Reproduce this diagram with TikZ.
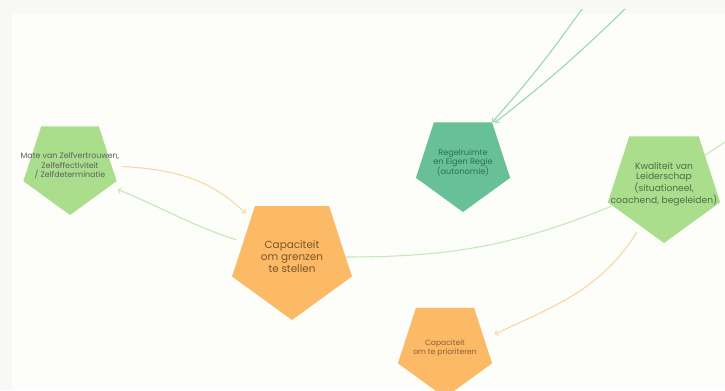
\documentclass[tikz,border=0pt]{standalone}
\usepackage{fontspec}
\setmainfont{Poppins}
\usepackage{tikz}
\usetikzlibrary{arrows}
\usetikzlibrary{shapes.geometric}
\definecolor{leafGreen}{RGB}{170,222,140}
\definecolor{regelGreen}{RGB}{104,192,152}
\definecolor{capOrange}{RGB}{252,186,102}
\definecolor{lineGreen}{RGB}{198,230,188}
\definecolor{lineOrange}{RGB}{249,214,168}
\definecolor{lineTeal}{RGB}{150,212,190}
\definecolor{paper}{RGB}{253,253,249}
\definecolor{paperEdge}{RGB}{248,248,245}
\tikzset{pent node/.style={regular polygon,regular polygon sides=5,shape border rotate=180,draw=none,inner sep=0pt}}
\tikzset{label node/.style={align=center,inner sep=0pt}}
\tikzset{link/.style={line width=0.75pt,>=to}}

\begin{document}
\begin{tikzpicture}[x=0.025cm,y=-0.025cm]
	\useasboundingbox (0,0) rectangle (725,390);
	\fill[paperEdge] (0,0) rectangle (725,390);
	\fill[paper] (12,14) rectangle (725,390);

	\node[pent node,minimum size=2.45cm,fill=leafGreen] (v_{1}) at (70,166) {};
	\node[pent node,minimum size=3.15cm,fill=capOrange] (v_{2}) at (292,257) {};
	\node[pent node,minimum size=2.475cm,fill=regelGreen] (v_{3}) at (463,162.5) {};
	\node[pent node,minimum size=2.95cm,fill=leafGreen] (v_{4}) at (664,184) {};
	\node[pent node,minimum size=2.475cm,fill=capOrange] (v_{5}) at (445,348) {};

	\node[label node,text={rgb,255:red,92;green,96;blue,102},font=\fontsize{5.6}{6.8}\selectfont] (t_{1}) at (v_{1}) {Mate van Zelfvertrouwen,\\Zelfeffectiviteit\\/ Zelfdeterminatie};
	\node[label node,text={rgb,255:red,122;green,84;blue,36},font=\fontsize{7.4}{8.5}\selectfont] (t_{2}) at (v_{2}) {Capaciteit\\om grenzen\\te stellen};
	\node[label node,text={rgb,255:red,46;green,110;blue,88},font=\fontsize{5.8}{7}\selectfont] (t_{3}) at (v_{3}) {Regelruimte\\en Eigen Regie\\(autonomie)};
	\node[label node,text={rgb,255:red,79;green,110;blue,69},font=\fontsize{6.5}{6.9}\selectfont] (t_{4}) at (v_{4}) {Kwaliteit van\\Leiderschap\\(situationeel,\\coachend, begeleiden)};
	\node[label node,text={rgb,255:red,138;green,96;blue,48},font=\fontsize{5.4}{6.4}\selectfont] (t_{5}) at (v_{5}) {Capaciteit\\om te prioriteren};

	\coordinate (s_{1}) at (582,9);
	\coordinate (s_{2}) at (625,9);
	\coordinate (s_{3}) at (728,140);

	\path [link]
	(v_{1}.0) edge[->,draw=lineOrange,out=-3,in=135,shorten <=7pt,shorten >=5pt] (v_{2}.137)
	(v_{2}.163) edge[->,draw=lineGreen,out=162,in=-22,shorten <=5pt,shorten >=6pt] (v_{1}.-27)
	(v_{2}.0) edge[draw=lineGreen,out=0,in=202] (v_{4}.203)
	(v_{4}.241) edge[->,draw=lineOrange,out=238,in=25,shorten <=5pt,shorten >=8pt] (v_{5}.13)
	(v_{4}.35) edge[draw=lineGreen] (s_{3})
	(s_{1}) edge[->,draw=lineTeal,bend left=3] (v_{3}.54)
	(s_{2}) edge[->,draw=lineTeal,bend left=3,shorten >=2pt] (v_{3}.52);
\end{tikzpicture}
\end{document}
